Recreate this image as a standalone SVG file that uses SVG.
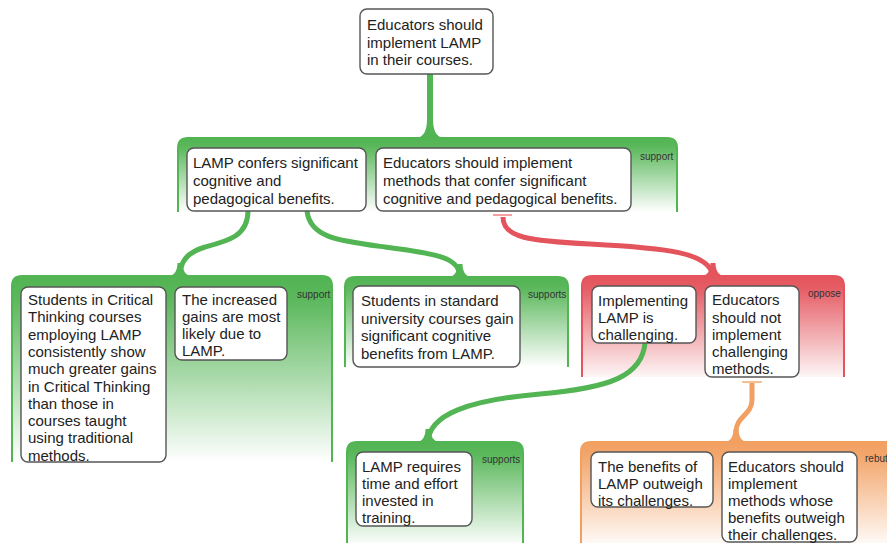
<svg xmlns="http://www.w3.org/2000/svg" width="887" height="543" viewBox="0 0 887 543">
<style>
.box{fill:#fff;stroke:#555;stroke-width:1.4}
.t{font-family:"Liberation Sans",Arial,sans-serif;font-size:15px;fill:#222}
.lbl{font-family:"Liberation Sans",Arial,sans-serif;font-size:10px;fill:#333}
.gG{fill:url(#gradG);stroke:#52b453;stroke-width:2}
.gR{fill:url(#gradR);stroke:#e4545c;stroke-width:2}
.gO{fill:url(#gradO);stroke:#f2a062;stroke-width:2}
.cG{fill:none;stroke:#52b453;stroke-width:5}
.cR{fill:none;stroke:#e4545c;stroke-width:5}
.cO{fill:none;stroke:#f2a062;stroke-width:5}
.fG{fill:#52b453}
.fR{fill:#e4545c}
.fO{fill:#f2a062}
</style>
<defs>
<linearGradient id="gradG" x1="0" y1="0" x2="0" y2="1">
<stop offset="0" stop-color="#52b453" stop-opacity="1"/>
<stop offset="0.12" stop-color="#52b453" stop-opacity="0.95"/>
<stop offset="1" stop-color="#52b453" stop-opacity="0"/>
</linearGradient>
<linearGradient id="gradR" x1="0" y1="0" x2="0" y2="1">
<stop offset="0" stop-color="#e4545c" stop-opacity="1"/>
<stop offset="0.12" stop-color="#e4545c" stop-opacity="0.95"/>
<stop offset="1" stop-color="#e4545c" stop-opacity="0.05"/>
</linearGradient>
<linearGradient id="gradO" x1="0" y1="0" x2="0" y2="1">
<stop offset="0" stop-color="#f2a062" stop-opacity="1"/>
<stop offset="0.12" stop-color="#f2a062" stop-opacity="0.95"/>
<stop offset="1" stop-color="#f2a062" stop-opacity="0.03"/>
</linearGradient>
</defs>

<g id="regions">
<path id="regionA" class="gG" d="M178 212 V148 Q178 138 188 138 H667 Q677 138 677 148 V212"/>
<text class="lbl" x="640" y="160">support</text>
<path id="regionB" class="gG" d="M12 462 V286 Q12 276 22 276 H322 Q332 276 332 286 V462"/>
<text class="lbl" x="297" y="298">support</text>
<path id="regionC" class="gG" d="M345 367 V287 Q345 277 355 277 H558 Q568 277 568 287 V367"/>
<text class="lbl" x="528" y="298">supports</text>
<path id="regionD" class="gR" d="M582 377 V286 Q582 276 592 276 H834 Q844 276 844 286 V377"/>
<text class="lbl" x="808" y="297">oppose</text>
<path id="regionE" class="gG" d="M347 546 V452 Q347 442 357 442 H513 Q523 442 523 452 V546"/>
<text class="lbl" x="482" y="463">supports</text>
<path id="regionF" class="gO" d="M581 546 V452 Q581 442 591 442 H911 V546"/>
<text class="lbl" x="865" y="462">rebut</text>
</g>

<g id="connectors">
<path class="cG" d="M430 74 V130" style="stroke-width:6"/>
<path class="fG" d="M427 120 Q427 139 412 139 L448 139 Q433 139 433 120 Z"/>
<path class="cG" d="M248 211 C248 236 228 241 205 247 C186 253 180 262 180 277"/>
<path class="fG" d="M177.5 263 Q177.5 277 164 277 L196 277 Q182.5 277 182.5 263 Z"/>
<path class="cG" d="M307 211 C310 238 340 241 385 247 C440 254 460 258 460 278"/>
<path class="fG" d="M457.5 264 Q457.5 278 444 278 L476 278 Q462.5 278 462.5 264 Z"/>
<line x1="493" y1="215" x2="512" y2="215" stroke="#f4a0a0" stroke-width="2"/>
<path class="cR" d="M503 217 C503 238 530 241 590 244 C665 248 711 252 713 277"/>
<path class="fR" d="M710.5 263 Q710.5 277 697 277 L729 277 Q715.5 277 715.5 263 Z"/>
<path class="cG" d="M645 343 C642 376 610 388 540 394 C470 400 428 414 428 443"/>
<path class="fG" d="M425.5 429 Q425.5 443 412 443 L444 443 Q430.5 443 430.5 429 Z"/>
<line x1="742" y1="382" x2="762" y2="382" stroke="#f6c090" stroke-width="2"/>
<path class="cO" d="M752 383 V400 C752 415 736 416 736 432 V443"/>
<path class="fO" d="M733.5 429 Q733.5 443 720 443 L752 443 Q738.5 443 738.5 429 Z"/>
</g>

<g id="n1"><rect class="box" x="360" y="9" width="133" height="65" rx="7"/>
<text class="t"><tspan x="367" y="30">Educators should</tspan><tspan x="367" y="47.5">implement LAMP</tspan><tspan x="367" y="65">in their courses.</tspan></text></g>

<g id="n2"><rect class="box" x="187" y="148" width="179" height="63" rx="7"/>
<text class="t"><tspan x="193" y="168">LAMP confers significant</tspan><tspan x="193" y="186">cognitive and</tspan><tspan x="193" y="204">pedagogical benefits.</tspan></text></g>

<g id="n3"><rect class="box" x="376" y="148" width="255" height="63" rx="7"/>
<text class="t"><tspan x="383" y="168">Educators should implement</tspan><tspan x="383" y="186">methods that confer significant</tspan><tspan x="383" y="204">cognitive and pedagogical benefits.</tspan></text></g>

<g id="n4"><rect class="box" x="21" y="287" width="145" height="175" rx="7"/>
<text class="t"><tspan x="28" y="305">Students in Critical</tspan><tspan x="28" y="322.3">Thinking courses</tspan><tspan x="28" y="339.6">employing LAMP</tspan><tspan x="28" y="356.9">consistently show</tspan><tspan x="28" y="374.2">much greater gains</tspan><tspan x="28" y="391.5">in Critical Thinking</tspan><tspan x="28" y="408.8">than those in</tspan><tspan x="28" y="426.1">courses taught</tspan><tspan x="28" y="443.4">using traditional</tspan><tspan x="28" y="460.7">methods.</tspan></text></g>

<g id="n5"><rect class="box" x="175" y="287" width="112" height="73" rx="7"/>
<text class="t"><tspan x="182" y="305">The increased</tspan><tspan x="182" y="322">gains are most</tspan><tspan x="182" y="339">likely due to</tspan><tspan x="182" y="356">LAMP.</tspan></text></g>

<g id="n6"><rect class="box" x="353" y="286" width="167" height="81" rx="7"/>
<text class="t"><tspan x="361" y="306">Students in standard</tspan><tspan x="361" y="323.5">university courses gain</tspan><tspan x="361" y="341">significant cognitive</tspan><tspan x="361" y="358.5">benefits from LAMP.</tspan></text></g>

<g id="n7"><rect class="box" x="592" y="286" width="104" height="57" rx="7"/>
<text class="t"><tspan x="598" y="306">Implementing</tspan><tspan x="598" y="323">LAMP is</tspan><tspan x="598" y="340">challenging.</tspan></text></g>

<g id="n8"><rect class="box" x="705" y="286" width="94" height="91" rx="7"/>
<text class="t"><tspan x="712" y="305">Educators</tspan><tspan x="712" y="322.5">should not</tspan><tspan x="712" y="340">implement</tspan><tspan x="712" y="357">challenging</tspan><tspan x="712" y="374">methods.</tspan></text></g>

<g id="n9"><rect class="box" x="356" y="452" width="116" height="74" rx="7"/>
<text class="t"><tspan x="362" y="472">LAMP requires</tspan><tspan x="362" y="489">time and effort</tspan><tspan x="362" y="506">invested in</tspan><tspan x="362" y="523">training.</tspan></text></g>

<g id="n10"><rect class="box" x="591" y="452" width="122" height="55" rx="7"/>
<text class="t"><tspan x="598" y="472">The benefits of</tspan><tspan x="598" y="489">LAMP outweigh</tspan><tspan x="598" y="506">its challenges.</tspan></text></g>

<g id="n11"><rect class="box" x="722" y="452" width="135" height="90" rx="7"/>
<text class="t"><tspan x="728" y="472">Educators should</tspan><tspan x="728" y="489">implement</tspan><tspan x="728" y="506">methods whose</tspan><tspan x="728" y="523">benefits outweigh</tspan><tspan x="728" y="540">their challenges.</tspan></text></g>
</svg>
